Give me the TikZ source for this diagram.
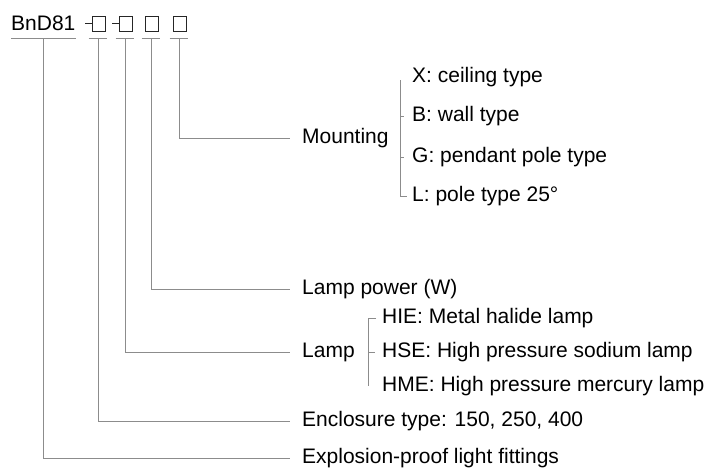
\documentclass[tikz,border=0pt]{standalone}
\usepackage{fontspec}
\setmainfont{Liberation Sans}
\usepackage{tikz}

\tikzset{
  lead/.style={draw=black!45, line width=0.7pt},
  txt/.style={anchor=west, inner xsep=12pt, inner ysep=0pt, text height=15pt, text depth=4pt},
  sub/.style={anchor=west, inner sep=0pt, text height=15pt, text depth=4pt},
  digit/.style={draw=black!85, line width=0.8pt, minimum width=13pt, minimum height=15pt, inner sep=0pt}
}

\begin{document}
\begin{tikzpicture}[x=1pt,y=-1pt,font=\fontsize{21}{25}\selectfont]
			\useasboundingbox (0,0) rectangle (714,471);
			% type code
			\node[sub] (code) at (11,25) {BnD81};
			\node[digit] (b1) at (98.5,23.5) {};
			\node[digit] (b2) at (125.5,23.5) {};
			\node[digit] (b3) at (151.5,23.5) {};
			\node[digit] (b4) at (179.5,23.5) {};
			\draw[black!85,line width=0.8pt] (b1.west) -- ++(-7,0);
			\draw[black!85,line width=0.8pt] (b2.west) -- ++(-7,0);
			\draw[lead] ([yshift=-4pt]code.south west) -- ([yshift=-4pt]code.south east);
			\foreach \b in {b1,b2,b3,b4}
				\draw[lead] ([xshift=-3pt,yshift=-7pt]\b.south west) -- ([xshift=2pt,yshift=-7pt]\b.south east);
			% meanings
			\node[txt] (mnt) at (290,138) {Mounting};
			\node[txt] (pwr) at (290,289) {Lamp power (W)};
			\node[txt] (lamp) at (290,352) {Lamp};
			\node[txt] (encl) at (290,421) {Enclosure type: 150, 250, 400};
			\node[txt] (expl) at (290,458) {Explosion-proof light fittings};
			\draw[lead] ([yshift=-4pt]code.south) |- (expl.west);
			\draw[lead] ([yshift=-7pt]b1.south) |- (encl.west);
			\draw[lead] ([yshift=-7pt]b2.south) |- (lamp.west);
			\draw[lead] ([yshift=-7pt]b3.south) |- (pwr.west);
			\draw[lead] ([yshift=-7pt]b4.south) |- (mnt.west);
			% mounting options
			\node[sub] (mx) at (412,77) {X: ceiling type};
			\node[sub] (mb) at (412,116) {B: wall type};
			\node[sub] (mg) at (412,157) {G: pendant pole type};
			\node[sub] (ml) at (412,196) {L: pole type 25°};
			\coordinate (mbrk) at (400,80);
			\draw[lead] (mbrk) |- ([xshift=-5pt]ml.west);
			\foreach \n in {mb,mg}
				\draw[lead] (\n.west -| mbrk) -- ++(4,0);
			% lamp options
			\node[sub] (hie) at (382,318) {HIE: Metal halide lamp};
			\node[sub] (hse) at (382,352) {HSE: High pressure sodium lamp};
			\node[sub] (hme) at (382,386) {HME: High pressure mercury lamp};
			\coordinate (lbrk) at (368,318);
			\draw[lead] ([xshift=-6pt]hie.west) -- (lbrk) -- (hme.west -| lbrk);
			\draw[lead] (hse.west -| lbrk) -- ++(7,0);
		\end{tikzpicture}
\end{document}
